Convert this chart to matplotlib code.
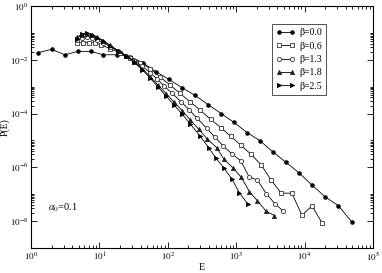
import numpy as np
import matplotlib
matplotlib.use("Agg")
import matplotlib.pyplot as plt
from matplotlib.ticker import FixedLocator, NullFormatter

plt.rcParams['font.family'] = ['Liberation Serif', 'DejaVu Serif']
plt.rcParams['mathtext.fontset'] = 'stix'

labels = ['β=0.0', 'β=0.6', 'β=1.3', 'β=1.8', 'β=2.5']

E_b00 = [1.26, 2.0, 3.11, 4.88, 7.55, 11.4, 17.9, 28.1, 43.6, 67.4, 104, 162, 251, 389,
         603, 933, 1445, 2239, 3475, 5383, 8337, 12912, 20000, 31046, 48529]
P_b00 = [1.87e-2, 2.50e-2, 1.57e-2, 2.10e-2, 2.10e-2, 1.57e-2, 1.57e-2, 1.35e-2, 7.7e-3,
         3.65e-3, 1.90e-3, 9.2e-4, 4.8e-4, 2.17e-4, 1.0e-4, 4.7e-5, 1.95e-5, 9.7e-6,
         3.66e-6, 1.51e-6, 6.1e-7, 2.14e-7, 7.8e-8, 3.74e-8, 9.4e-9]

E_b06 = [4.71, 5.77, 7.06, 8.63, 10.6, 14.3, 20.0, 28.1, 39.4, 55.1, 75.9, 108, 151, 212,
         297, 423, 603, 836, 1169, 1637, 2317, 3243, 4550, 6516, 9141, 12794, 17906]
P_b06 = [4.30e-2, 4.49e-2, 4.49e-2, 4.30e-2, 3.62e-2, 2.68e-2, 1.82e-2, 1.24e-2, 8.0e-3,
         4.8e-3, 2.41e-3, 1.16e-3, 5.7e-4, 2.76e-4, 1.35e-4, 6.1e-5, 2.96e-5, 1.41e-5,
         6.7e-6, 3.08e-6, 1.23e-6, 3.3e-7, 1.08e-7, 1.08e-7, 1.63e-8, 3.6e-8, 8.7e-9]

E_b13 = [4.71, 5.57, 6.59, 7.80, 9.25, 11.3, 14.3, 18.7, 24.5, 32.1, 42.1, 55.1, 69.7, 88.3,
         116, 157, 207, 271, 372, 492, 650, 863, 1161, 1545, 2046, 2742, 3673, 4909]
P_b13 = [5.56e-2, 6.9e-2, 7.5e-2, 6.9e-2, 5.8e-2, 4.49e-2, 3.18e-2, 2.16e-2, 1.47e-2,
         9.5e-3, 5.9e-3, 3.40e-3, 1.95e-3, 1.07e-3, 5.7e-4, 2.76e-4, 1.35e-4, 6.6e-5,
         2.8e-5, 1.29e-5, 6.1e-6, 3.2e-6, 1.76e-6, 4.4e-7, 3.3e-7, 1.05e-7, 4.4e-8, 2.29e-8]

E_b18 = [4.71, 5.57, 6.59, 7.80, 9.25, 11.3, 14.3, 18.7, 24.5, 32.1, 42.1, 55.1, 72.1, 94.4,
         124, 162, 212, 282, 379, 518, 667, 893, 1180, 1563, 2046, 2742, 3622]
P_b18 = [7.2e-2, 8.9e-2, 9.7e-2, 8.9e-2, 7.2e-2, 5.3e-2, 3.62e-2, 2.25e-2, 1.47e-2, 8.7e-3,
         4.8e-3, 2.41e-3, 1.16e-3, 5.6e-4, 2.69e-4, 1.30e-4, 5.98e-5, 2.64e-5, 1.12e-5,
         5.4e-6, 1.95e-6, 9.6e-7, 4.3e-7, 1.22e-7, 5.6e-8, 2.29e-8, 1.58e-8]

E_b25 = [4.71, 5.57, 6.59, 7.80, 9.25, 11.3, 14.3, 18.7, 24.5, 32.1, 42.1, 55.1, 72.1, 94.4,
         124, 162, 212, 297, 398, 509, 667, 873, 1117, 1472]
P_b25 = [6.3e-2, 9.7e-2, 1.02e-1, 8.9e-2, 6.9e-2, 5.1e-2, 3.47e-2, 2.16e-2, 1.41e-2, 8.4e-3,
         4.4e-3, 2.12e-3, 9.8e-4, 4.5e-4, 2.08e-4, 9.6e-5, 4.2e-5, 1.45e-5, 5.3e-6, 2.13e-6,
         9.2e-7, 3.5e-7, 1.10e-7, 4.3e-8]

x_ticks = [1, 10, 100, 1000, 10000, 100000]
x_ticklabels = ['$10^{0}$', '$10^{1}$', '$10^{2}$', '$10^{3}$', '$10^{4}$', '$10^{5}$']
y_ticks = [1e-8, 1e-6, 1e-4, 1e-2, 1]
y_ticklabels = ['$10^{-8}$', '$10^{-6}$', '$10^{-4}$', '$10^{-2}$', '$10^{0}$']

fig = plt.figure(figsize=(3.82, 2.73), dpi=100)
ax = fig.add_axes([0.0812, 0.0927, 0.8952, 0.8839])

series = [
    (E_b00, P_b00, dict(marker='o', ms=2.6, mfc='black', mec='black')),
    (E_b06, P_b06, dict(marker='s', ms=2.8, mfc='white', mec='#333333')),
    (E_b13, P_b13, dict(marker='o', ms=3.0, mfc='white', mec='#333333')),
    (E_b18, P_b18, dict(marker='^', ms=3.0, mfc='#222222', mec='#222222')),
    (E_b25, P_b25, dict(marker='>', ms=3.0, mfc='black', mec='black')),
]
for (E, P, st), lab in zip(series, labels):
    ax.plot(E, P, color='black', lw=0.6, mew=0.6, label=lab, **st)

ax.set_xscale('log')
ax.set_yscale('log')
ax.set_xlim(1, 1e5)
ax.set_ylim(1e-9, 1)

ax.xaxis.set_major_locator(FixedLocator(x_ticks))
ax.set_xticklabels(x_ticklabels)
ax.yaxis.set_major_locator(FixedLocator(y_ticks))
ax.set_yticklabels(y_ticklabels)

xminor = [k * 10.0 ** d for d in range(0, 5) for k in range(2, 10)]
yminor = [k * 10.0 ** d for d in (-8, -6, -4, -2) for k in range(2, 11)]
ax.xaxis.set_minor_locator(FixedLocator(xminor))
ax.yaxis.set_minor_locator(FixedLocator(yminor))
ax.xaxis.set_minor_formatter(NullFormatter())
ax.yaxis.set_minor_formatter(NullFormatter())

ax.tick_params(which='both', direction='in', top=True, right=True, labelsize=6.5, width=0.6)
ax.tick_params(which='major', length=4)
ax.tick_params(which='minor', length=2.4)
ax.tick_params(axis='x', pad=2)
ax.tick_params(axis='y', pad=2)
for s in ax.spines.values():
    s.set_linewidth(0.8)

ax.set_xlabel('E', fontsize=7, labelpad=0)
ax.set_ylabel('P(E)', fontsize=7, labelpad=0)

ax.text(0.051, 0.153, r'$\alpha_0$=0.1', transform=ax.transAxes, fontsize=7.5)

leg = ax.legend(loc='upper left', bbox_to_anchor=(0.704, 0.925), numpoints=2,
                fontsize=7, frameon=True, fancybox=False, edgecolor='black',
                handlelength=2.0, handletextpad=0.4, labelspacing=0.45,
                borderpad=0.4, borderaxespad=0)
leg.get_frame().set_linewidth(0.6)

fig.savefig('out.png', dpi=100)
